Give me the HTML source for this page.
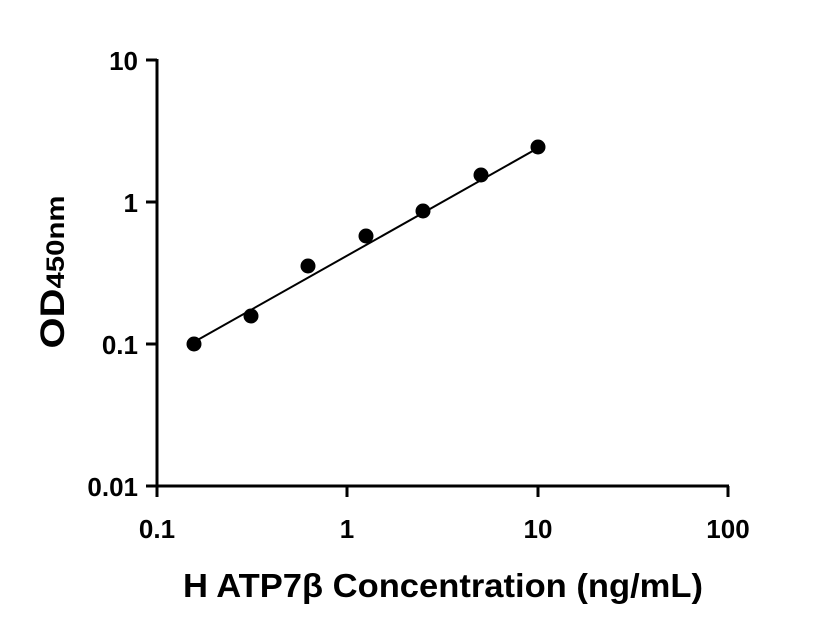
<!DOCTYPE html>
<html><head><style>body{margin:0;background:#fff}svg{display:block}</style></head><body>
<svg width="816" height="640" xmlns="http://www.w3.org/2000/svg" font-family="Liberation Sans, sans-serif" font-weight="bold">
<g stroke="#000" stroke-width="3" fill="none">
<line x1="157" y1="59" x2="157" y2="497"/>
<line x1="146" y1="486" x2="729" y2="486"/>
<line x1="146" y1="60" x2="157" y2="60"/>
<line x1="146" y1="202" x2="157" y2="202"/>
<line x1="146" y1="344" x2="157" y2="344"/>
<line x1="347" y1="486" x2="347" y2="497"/>
<line x1="538" y1="486" x2="538" y2="497"/>
<line x1="728" y1="486" x2="728" y2="497"/>
</g>
<line x1="194" y1="342" x2="538" y2="148" stroke="#000" stroke-width="2"/>
<g fill="#000">
<circle cx="194" cy="344" r="7.5"/><circle cx="251" cy="316" r="7.5"/><circle cx="308" cy="266" r="7.5"/>
<circle cx="366" cy="236" r="7.5"/><circle cx="423" cy="211" r="7.5"/><circle cx="481" cy="175" r="7.5"/>
<circle cx="538" cy="147" r="7.5"/>
</g>
<g font-size="26" text-anchor="end">
<text x="138" y="70">10</text><text x="138" y="212">1</text><text x="138" y="354">0.1</text><text x="138" y="496">0.01</text>
</g>
<g font-size="26" text-anchor="middle">
<text x="157" y="538">0.1</text><text x="347" y="538">1</text><text x="538" y="538">10</text><text x="728" y="538">100</text>
</g>
<text x="443" y="597" font-size="33" text-anchor="middle" textLength="520" lengthAdjust="spacingAndGlyphs">H ATP7β Concentration (ng/mL)</text>
<text transform="translate(64,272) rotate(-90)" font-size="34" text-anchor="middle" textLength="153" lengthAdjust="spacingAndGlyphs">OD<tspan font-size="25">450nm</tspan></text>
</svg>
</body></html>
